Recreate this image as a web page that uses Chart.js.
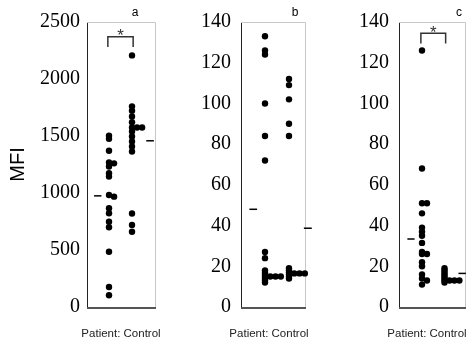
<!DOCTYPE html>
<html>
<head>
<meta charset="utf-8">
<script src="https://cdn.jsdelivr.net/npm/chart.js@4.4.1/dist/chart.umd.min.js"></script>
<style>
  body { margin: 0; background: #fff; }
  #wrap { position: relative; width: 473px; height: 340px; overflow: hidden; }
  canvas { position: absolute; top: 0; }
</style>
</head>
<body>
<div id="wrap">
  <canvas id="panelA" width="170" height="340" style="left:0px"></canvas>
  <canvas id="panelB" width="145" height="340" style="left:170px"></canvas>
  <canvas id="panelC" width="158" height="340" style="left:315px"></canvas>
</div>
<script>
// valores (MFI)
const painelA_paciente = [1502, 1475, 1370, 1268, 1260, 1232, 1174, 1144, 983, 968, 866, 822, 748, 700, 484, 176, 103];
const painelA_pacienteDesloc = [0, 0, 0, 0, 1, 0, 0, 0, 0, 1, 0, 0, 0, 0, 0, 0, 0];
const painelA_controle = [2207, 1760, 1722, 1672, 1620, 1575, 1575, 1575, 1540, 1496, 1452, 1408, 1364, 820, 720, 660];
const painelA_controleDesloc = [0, 0, 0, 0, 0, 0, 1, 2, 0, 0, 0, 0, 0, 0, 0, 0];
const painelA_medias = [975, 1458];

const painelB_paciente = [133, 126, 124, 100, 84, 72, 27, 24, 18, 17, 16, 15, 14, 13, 12, 15, 15, 15];
const painelB_pacienteDesloc = [0, 0, 0, 0, 0, 0, 0, 0, 0, 0, 0, 0, 0, 0, 0, 1, 2, 3];
const painelB_controle = [112, 109, 102, 90, 84, 19, 18, 17, 16, 15, 14, 16.5, 16.5, 16.5];
const painelB_controleDesloc = [0, 0, 0, 0, 0, 0, 0, 0, 0, 0, 0, 1, 2, 3];
const painelB_medias = [48, 38.7];

const painelC_paciente = [126, 68, 51, 51, 46, 39, 37, 35, 31.5, 27, 26, 26, 22, 20, 16, 14, 13, 11];
const painelC_pacienteDesloc = [0, 0, 0, 1, 0, 0, 0, 0, 0, 0, 0, 1, 0, 0, 0, 0, 1, 0];
const painelC_controle = [19, 18, 17, 16, 15, 14, 13, 12, 13, 13, 13];
const painelC_controleDesloc = [0, 0, 0, 0, 0, 0, 0, 0, 1, 2, 3];
const painelC_medias = [33.4, 16.5];

const ticksA = [0, 500, 1000, 1500, 2000, 2500];
const ticksBC = [0, 20, 40, 60, 80, 100, 120, 140];

const rotuloX = 'Patient: Control';
const rotuloY = 'MFI';

// posição das categorias no eixo x (1 = paciente, 2 = controle)
const PACIENTE = 1, CONTROLE = 2, PASSO = 0.22;

function pontos(valores, desloc, categoria) {
    return valores.map((v, i) => ({ x: categoria + desloc[i] * PASSO, y: v }));
}

// desenha bordas, letra do painel, rótulo inferior e asterisco
const decoracao = {
    id: 'decoracao',
    beforeDatasetsDraw(chart, args, opts) {
        const { ctx, chartArea: a } = chart;
        ctx.save();
        ctx.strokeStyle = '#c8c8c8';
        ctx.lineWidth = 1;
        ctx.beginPath();
        ctx.moveTo(a.left, a.top + 0.5);
        ctx.lineTo(a.right + 0.5, a.top + 0.5);
        ctx.lineTo(a.right + 0.5, a.bottom);
        ctx.stroke();
        ctx.strokeStyle = '#555';
        ctx.lineWidth = 2;
        ctx.beginPath();
        ctx.moveTo(a.left, a.bottom + 1);
        ctx.lineTo(a.right + 1, a.bottom + 1);
        ctx.stroke();
        ctx.restore();
    },
    afterDatasetsDraw(chart, args, opts) {
        const { ctx, chartArea: a, scales } = chart;
        ctx.save();
        ctx.fillStyle = '#000';
        ctx.font = '12px "Liberation Sans", Arial, sans-serif';
        ctx.textAlign = 'center';
        ctx.textBaseline = 'alphabetic';
        ctx.fillText(opts.letra, a.right - opts.letraRecuo, 16);
        ctx.fillStyle = '#222';
        ctx.font = '11.5px "Liberation Sans", Arial, sans-serif';
        ctx.fillText(rotuloX, (a.left + a.right) / 2 - opts.rotuloRecuo, 337);
        if (opts.estrela !== null) {
            ctx.fillStyle = '#333';
            ctx.font = '17px "Liberation Sans", Arial, sans-serif';
            ctx.fillText('*', scales.x.getPixelForValue(1.5), scales.y.getPixelForValue(opts.estrela) + 10);
        }
        ctx.restore();
    }
};

function criarPainel(id, cfg) {
    const datasets = [
        { type: 'scatter', data: pontos(cfg.paciente, cfg.pacienteDesloc, PACIENTE) },
        { type: 'scatter', data: pontos(cfg.controle, cfg.controleDesloc, CONTROLE) },
        { type: 'line', data: [{ x: PACIENTE - 0.65, y: cfg.medias[0] }, { x: PACIENTE - 0.33, y: cfg.medias[0] }] },
        { type: 'line', data: [{ x: CONTROLE + 0.62, y: cfg.medias[1] }, { x: CONTROLE + 0.95, y: cfg.medias[1] }] }
    ];
    if (cfg.chave) {
        datasets.push({ type: 'line', data: [
            { x: PACIENTE - 0.05, y: cfg.chave[1] }, { x: PACIENTE - 0.05, y: cfg.chave[0] },
            { x: CONTROLE + 0.05, y: cfg.chave[0] }, { x: CONTROLE + 0.05, y: cfg.chave[1] }
        ], borderColor: '#333', borderWidth: 1.5 });
    }
    datasets.forEach(d => {
        d.clip = false;
        if (d.type === 'scatter') {
            d.pointRadius = 3.2;
            d.backgroundColor = '#000';
            d.borderWidth = 0;
        } else {
            d.pointRadius = 0;
            d.borderColor = d.borderColor || '#000';
            d.borderWidth = d.borderWidth || 1.5;
            d.tension = 0;
        }
    });

    return new Chart(document.getElementById(id), {
        data: { datasets },
        options: {
            responsive: false,
            animation: false,
            events: [],
            layout: { padding: { left: 0, right: cfg.direita, top: 22, bottom: 33 } },
            plugins: {
                legend: { display: false },
                tooltip: { enabled: false },
                decoracao: { letra: cfg.letra, letraRecuo: cfg.letraRecuo, rotuloRecuo: cfg.rotuloRecuo, estrela: cfg.estrela }
            },
            scales: {
                x: { type: 'linear', display: false, min: cfg.xMin, max: cfg.xMax },
                y: {
                    type: 'linear',
                    min: cfg.ticks[0],
                    max: cfg.ticks[cfg.ticks.length - 1],
                    afterFit: s => { s.width = cfg.larguraY; },
                    afterBuildTicks: s => { s.ticks = cfg.ticks.map(v => ({ value: v })); },
                    grid: { drawOnChartArea: false, drawTicks: false },
                    border: { display: true, color: '#222', width: 1 },
                    ticks: {
                        padding: cfg.folgaTicks,
                        color: '#000',
                        callback: v => String(v),
                        font: { family: '"Liberation Serif", "Times New Roman", serif', size: 20 }
                    },
                    title: {
                        display: cfg.tituloY,
                        text: rotuloY,
                        color: '#000',
                        padding: { top: 6, bottom: 0 },
                        font: { family: '"Liberation Sans", Arial, sans-serif', size: 20 }
                    }
                }
            }
        },
        plugins: [decoracao]
    });
}

criarPainel('panelA', {
    paciente: painelA_paciente, pacienteDesloc: painelA_pacienteDesloc,
    controle: painelA_controle, controleDesloc: painelA_controleDesloc,
    medias: painelA_medias, ticks: ticksA, chave: [2370, 2280], estrela: 2420,
    xMin: 0.043, xMax: 3.0, larguraY: 87, direita: 15, tituloY: true, folgaTicks: 7,
    letra: 'a', letraRecuo: 20, rotuloRecuo: 0
});
criarPainel('panelB', {
    paciente: painelB_paciente, pacienteDesloc: painelB_pacienteDesloc,
    controle: painelB_controle, controleDesloc: painelB_controleDesloc,
    medias: painelB_medias, ticks: ticksBC, chave: null, estrela: null,
    xMin: 0, xMax: 2.667, larguraY: 71, direita: 10, tituloY: false, folgaTicks: 10,
    letra: 'b', letraRecuo: 10, rotuloRecuo: 4
});
criarPainel('panelC', {
    paciente: painelC_paciente, pacienteDesloc: painelC_pacienteDesloc,
    controle: painelC_controle, controleDesloc: painelC_controleDesloc,
    medias: painelC_medias, ticks: ticksBC, chave: [134.5, 129.5], estrela: 137,
    xMin: -0.022, xMax: 2.91, larguraY: 84, direita: 8, tituloY: false, folgaTicks: 10,
    letra: 'c', letraRecuo: 6, rotuloRecuo: 5
});
</script>
</body>
</html>
